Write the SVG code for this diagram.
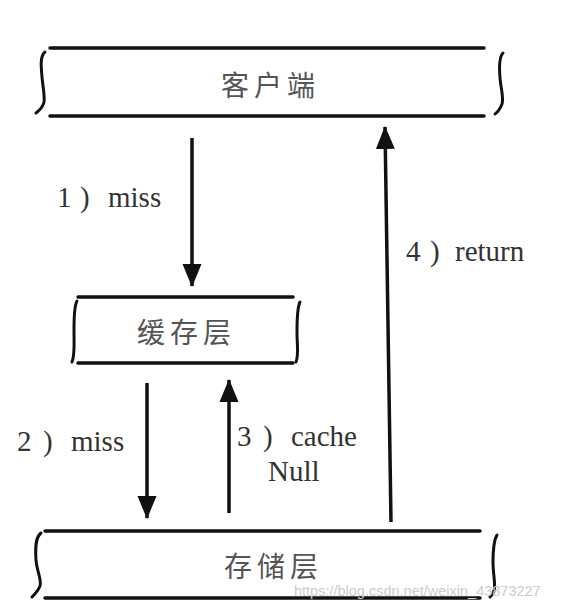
<svg xmlns="http://www.w3.org/2000/svg" width="573" height="610" viewBox="0 0 573 610">
<style>
.edge{stroke:#111;stroke-width:3.5;stroke-linecap:round;fill:none}
.side{stroke:#111;stroke-width:3;stroke-linecap:round;fill:none}
.conn{stroke:#111;stroke-width:3.5;fill:none}
.cjk{font-family:'Noto Sans CJK SC','Noto Sans CJK JP',sans-serif;font-size:28px;fill:#555;letter-spacing:5px}
.lbl{font-size:29px;fill:#333}
.wm{font-family:'Liberation Sans',sans-serif;font-size:14.5px;fill:#cccccc}
</style>
<defs>
<marker id="ah" markerUnits="userSpaceOnUse" markerWidth="24" markerHeight="22" viewBox="0 0 24 22" refX="22" refY="11" orient="auto">
<path d="M0,1.5 L23,11 L0,20.5 Z" fill="#111"/>
</marker>
</defs>
<rect width="573" height="610" fill="#fff"/>
<g id="client">
<line class="edge" x1="50" y1="48" x2="484" y2="48"/>
<line class="edge" x1="50" y1="116" x2="484" y2="116"/>
<path class="side" d="M45,52 C40,56 41,66 42,77 C43,88 45,96 44,102 C43,107 40,110 36,113"/>
<path class="side" d="M503,53 C499,57 499,66 500,78 C501,90 504,98 502,104 C500,109 498,112 495,114"/>
<text class="cjk" x="221" y="96">客户端</text>
</g>
<g id="cache">
<line class="edge" x1="78" y1="297" x2="293" y2="297"/>
<line class="edge" x1="78" y1="363" x2="293" y2="363"/>
<path class="side" d="M77,301 C74,306 74,318 74,330 C74,345 75,355 72,362"/>
<path class="side" d="M300,302 C297,308 297,320 297,332 C297,345 299,355 296,362"/>
<text class="cjk" x="137" y="343">缓存层</text>
</g>
<g id="storage">
<line class="edge" x1="45" y1="531" x2="480" y2="531"/>
<line class="edge" x1="45" y1="598" x2="480" y2="598"/>
<path class="side" d="M41,533 C36,537 35,545 36,560 C37,572 42,580 40,586 C38,591 35,594 32,597"/>
<path class="side" d="M497,535 C494,540 493,550 493,562 C493,575 496,585 494,591 C493,594 491,596 490,597"/>
<text class="cjk" x="224" y="577">存储层</text>
</g>
<g id="connectors">
<line class="conn" x1="192" y1="138" x2="192" y2="286" marker-end="url(#ah)"/>
<line class="conn" x1="147" y1="383" x2="147" y2="518" marker-end="url(#ah)"/>
<line class="conn" x1="229" y1="513" x2="229" y2="380" marker-end="url(#ah)"/>
<line class="conn" x1="391" y1="522" x2="385" y2="127" marker-end="url(#ah)"/>
<g style="font-family:'Times New Roman','Liberation Serif',serif">
<text class="lbl" y="207"><tspan x="57">1</tspan><tspan x="80">)</tspan><tspan x="108">miss</tspan></text>
<text class="lbl" y="451"><tspan x="17">2</tspan><tspan x="43">)</tspan><tspan x="71">miss</tspan></text>
<text class="lbl" y="446"><tspan x="237">3</tspan><tspan x="263">)</tspan><tspan x="291">cache</tspan><tspan x="268" y="481">Null</tspan></text>
<text class="lbl" y="261"><tspan x="406">4</tspan><tspan x="430">)</tspan><tspan x="455">return</tspan></text>
</g>
</g>
<text class="wm" x="294" y="596">https://blog.csdn.net/weixin_43873227</text>
</svg>
